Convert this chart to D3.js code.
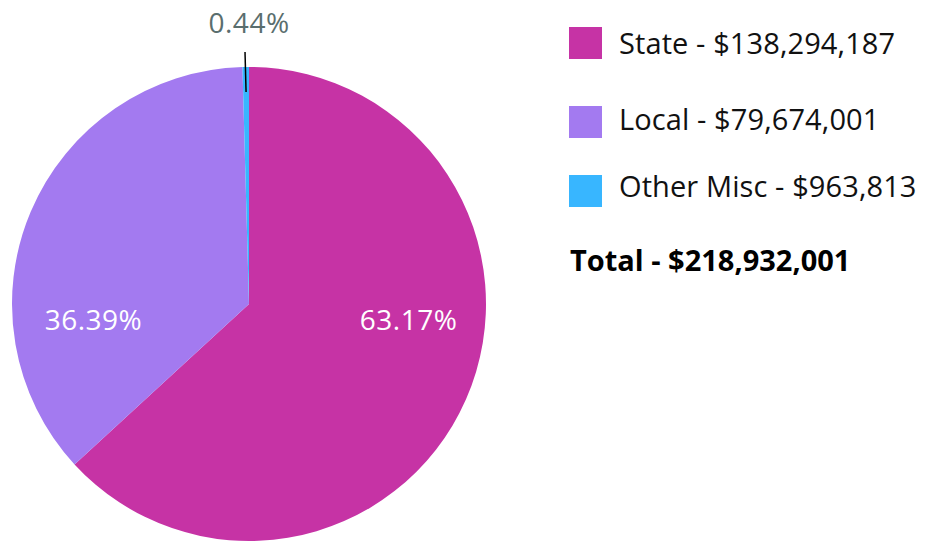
<!DOCTYPE html>
<html><head><meta charset="utf-8">
<script src="https://cdn.jsdelivr.net/npm/d3@7"></script>
<style>body{margin:0;background:#fff}svg{display:block;font-family:"Open Sans",sans-serif}</style>
</head><body>
<svg id="c" width="930" height="542"></svg>
<script>
const categories = ["State", "Local", "Other Misc"];
const values = [138294187, 79674001, 963813];
const percentLabels = ["63.17%", "36.39%", "0.44%"];
const colors = ["#C633A5", "#A37AF0", "#38B6FF"];
const totalLabel = "Total - $218,932,001";

const svg = d3.select("#c");
const cx = 249, cy = 304, r = 237;
const g = svg.append("g").attr("transform", `translate(${cx},${cy})`);
const pie = d3.pie().sort(null).value(d => d)(values);
const arc = d3.arc().innerRadius(0).outerRadius(r);
g.selectAll("path").data(pie).enter().append("path")
  .attr("d", arc).attr("fill", (d, i) => colors[i]);

// inside labels: horizontal placement on the side of each big slice
g.selectAll("text.in").data(pie.slice(0, 2)).enter().append("text")
  .attr("class", "in")
  .attr("x", d => Math.sign(arc.centroid(d)[0]) * r * 0.665 + 2)
  .attr("y", 26)
  .attr("text-anchor", "middle")
  .attr("fill", "#fff").attr("font-size", 28).attr("letter-spacing", 0.5)
  .text((d, i) => percentLabels[i]);

// small slice label with leader line
const s = pie[2];
const mid = (s.startAngle + s.endAngle) / 2;
const p1 = [Math.sin(mid) * (r - 25), -Math.cos(mid) * (r - 25)];
const p2 = [Math.sin(mid) * (r + 15) - 0.5, -Math.cos(mid) * (r + 15)];
g.append("line").attr("x1", p1[0]).attr("y1", p1[1]).attr("x2", p2[0]).attr("y2", p2[1])
  .attr("stroke", "#000").attr("stroke-width", 1.5);
g.append("text").attr("x", p2[0] + 4).attr("y", p2[1] - 19)
  .attr("text-anchor", "middle").attr("fill", "#5A6E6E").attr("font-size", 28).attr("letter-spacing", 0.5)
  .text(percentLabels[2]);

// legend
const fmt = d3.format(",");
const legY = [27, 106, 175];
const legTextY = [54, 130, 197];
const leg = svg.append("g");
categories.forEach((c, i) => {
  leg.append("rect").attr("x", 569).attr("y", legY[i]).attr("width", 33).attr("height", 32).attr("fill", colors[i]);
  leg.append("text").attr("x", 619).attr("y", legTextY[i]).attr("font-size", 29).attr("fill", "#111")
    .attr("letter-spacing", 0.1)
    .text(`${c} - $${fmt(values[i])}`);
});
leg.append("text").attr("x", 570).attr("y", 271).attr("font-size", 29).attr("font-weight", "bold").attr("fill", "#000")
  .text(totalLabel);
</script>
</body></html>
